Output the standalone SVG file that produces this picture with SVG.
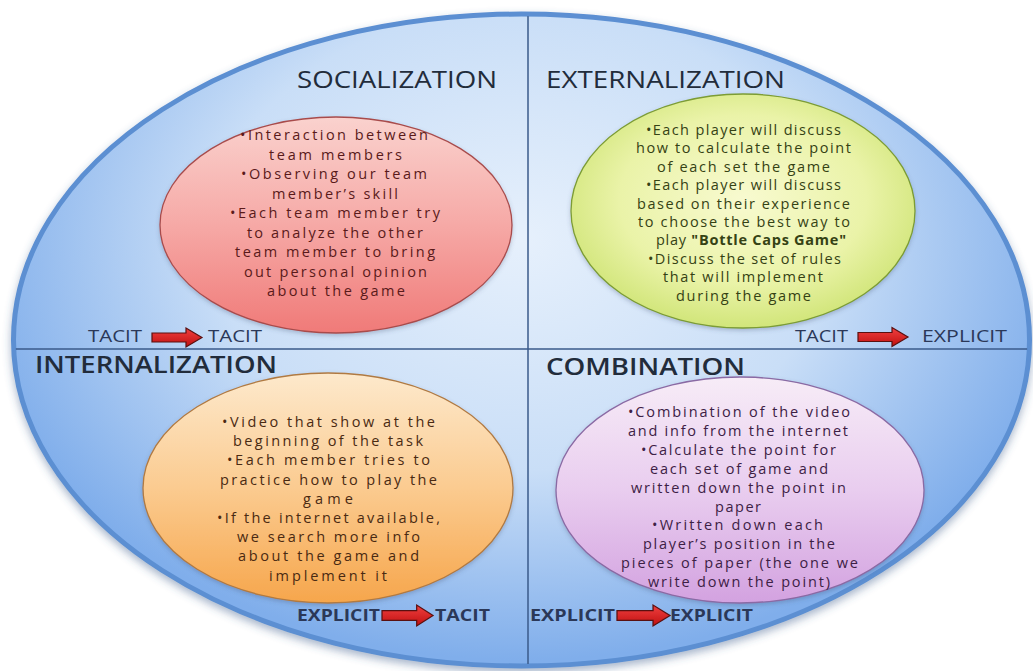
<svg xmlns="http://www.w3.org/2000/svg" width="1033" height="671" viewBox="0 0 1033 671">
<defs>
<radialGradient id="bg" cx="521" cy="240" r="560" gradientUnits="userSpaceOnUse" gradientTransform="translate(521 240) scale(1 0.75) translate(-521 -240)">
<stop offset="0" stop-color="#e6f0fc"/>
<stop offset="0.55" stop-color="#c9def7"/>
<stop offset="1" stop-color="#80aeeb"/>
</radialGradient>
<linearGradient id="gRed" x1="0" y1="0" x2="0" y2="1">
<stop offset="0" stop-color="#fad2ce"/>
<stop offset="0.5" stop-color="#f6a9a6"/>
<stop offset="1" stop-color="#f07a78"/>
</linearGradient>
<radialGradient id="gGreen" cx="0.5" cy="0.45" r="0.6">
<stop offset="0" stop-color="#f8fad0"/>
<stop offset="0.6" stop-color="#eaf3a8"/>
<stop offset="1" stop-color="#cbe26e"/>
</radialGradient>
<linearGradient id="gOrange" x1="0" y1="0" x2="0" y2="1">
<stop offset="0" stop-color="#fde9cc"/>
<stop offset="0.5" stop-color="#fbcb90"/>
<stop offset="1" stop-color="#f6a64c"/>
</linearGradient>
<linearGradient id="gPurple" x1="0" y1="0" x2="0" y2="1">
<stop offset="0" stop-color="#f7ecf7"/>
<stop offset="0.5" stop-color="#e9cdef"/>
<stop offset="1" stop-color="#d3a2e0"/>
</linearGradient>
<linearGradient id="gArrow" x1="0" y1="0" x2="0" y2="1">
<stop offset="0" stop-color="#f04040"/>
<stop offset="1" stop-color="#c01010"/>
</linearGradient>
<filter id="shadow" x="-5%" y="-5%" width="110%" height="115%">
<feGaussianBlur in="SourceAlpha" stdDeviation="4"/>
<feOffset dx="0" dy="4" result="b"/>
<feFlood flood-color="#3a5a8a" flood-opacity="0.45"/>
<feComposite in2="b" operator="in"/>
<feMerge><feMergeNode/><feMergeNode in="SourceGraphic"/></feMerge>
</filter>
<filter id="soft" x="-10%" y="-10%" width="120%" height="125%">
<feGaussianBlur in="SourceAlpha" stdDeviation="2"/>
<feOffset dx="0" dy="2" result="b"/>
<feFlood flood-color="#405070" flood-opacity="0.3"/>
<feComposite in2="b" operator="in"/>
<feMerge><feMergeNode/><feMergeNode in="SourceGraphic"/></feMerge>
</filter>
<clipPath id="clipBig"><ellipse cx="521.5" cy="340" rx="506" ry="324"/></clipPath>
<path id="arr" d="M0,-4.5 H34 V-9.5 L50,0 L34,9.5 V4.5 H0 Z"/>
</defs>
<style>
.title{font-family:"Open Sans","Liberation Sans",sans-serif;font-size:24px;fill:#222c3b}
.tb{font-weight:600}
.body{font-family:"Open Sans","Liberation Sans",sans-serif;font-size:14.5px;font-weight:500}
.lab{font-family:"Open Sans","Liberation Sans",sans-serif;font-size:16px;fill:#2b3858}
.labb{font-family:"Open Sans","Liberation Sans",sans-serif;font-size:16px;font-weight:bold;fill:#2b3858}
.red{fill:#5a1a1a}.grn{fill:#354214}.org{fill:#4a2a12}.pur{fill:#3d2145}
.arrow{fill:url(#gArrow);stroke:#5a1010;stroke-width:1.2}
.div{stroke:#3a5a8a;stroke-width:1.5;fill:none}
</style>
<rect width="1033" height="671" fill="#ffffff"/>
<g id="background">
<ellipse cx="521.5" cy="340" rx="508" ry="326" fill="url(#bg)" stroke="#5b8fd2" stroke-width="5" filter="url(#shadow)"/>
<g clip-path="url(#clipBig)">
<line class="div" x1="528" y1="10" x2="528" y2="670"/>
<line class="div" x1="10" y1="349" x2="1033" y2="349"/>
</g>
</g>
<g id="socialization">
<text class="title" x="297" y="88" textLength="200" lengthAdjust="spacingAndGlyphs">SOCIALIZATION</text>
<ellipse cx="336" cy="225" rx="176" ry="108" fill="url(#gRed)" stroke="#a84c4c" stroke-width="1.3" filter="url(#soft)"/>
<g class="body red">
<text x="240" y="140" textLength="188" lengthAdjust="spacing">•Interaction between</text>
<text x="269" y="159.5" textLength="133" lengthAdjust="spacing">team members</text>
<text x="241" y="179" textLength="186" lengthAdjust="spacing">•Observing our team</text>
<text x="272" y="198.5" textLength="126" lengthAdjust="spacing">member’s skill</text>
<text x="230" y="218" textLength="210" lengthAdjust="spacing">•Each team member try</text>
<text x="247" y="237.5" textLength="176" lengthAdjust="spacing">to analyze the other</text>
<text x="235" y="257" textLength="200" lengthAdjust="spacing">team member to bring</text>
<text x="244" y="276.5" textLength="183" lengthAdjust="spacing">out personal opinion</text>
<text x="267" y="296" textLength="138" lengthAdjust="spacing">about the game</text>
</g>
<text class="lab" x="88" y="342" textLength="54" lengthAdjust="spacingAndGlyphs">TACIT</text>
<text class="lab" x="208" y="342" textLength="54" lengthAdjust="spacingAndGlyphs">TACIT</text>
</g>
<g id="externalization">
<text class="title" x="546" y="88" textLength="239" lengthAdjust="spacingAndGlyphs">EXTERNALIZATION</text>
<ellipse cx="743" cy="211" rx="172" ry="117" fill="url(#gGreen)" stroke="#7c9c34" stroke-width="1.3" filter="url(#soft)"/>
<g class="body grn">
<text x="646" y="135" textLength="195" lengthAdjust="spacing">•Each player will discuss</text>
<text x="636" y="153.4" textLength="215" lengthAdjust="spacing">how to calculate the point</text>
<text x="657" y="171.8" textLength="173" lengthAdjust="spacing">of each set the game</text>
<text x="646" y="190.2" textLength="195" lengthAdjust="spacing">•Each player will discuss</text>
<text x="637" y="208.6" textLength="213" lengthAdjust="spacing">based on their experience</text>
<text x="638" y="227" textLength="212" lengthAdjust="spacing">to choose the best way to</text>
<text x="656" y="245.4" textLength="190" lengthAdjust="spacing">play <tspan font-weight="bold">"Bottle Caps Game"</tspan></text>
<text x="648" y="263.8" textLength="193" lengthAdjust="spacing">•Discuss the set of rules</text>
<text x="663" y="282.2" textLength="160" lengthAdjust="spacing">that will implement</text>
<text x="676" y="300.6" textLength="135" lengthAdjust="spacing">during the game</text>
</g>
<text class="lab" x="795" y="342" textLength="53" lengthAdjust="spacingAndGlyphs">TACIT</text>
<text class="lab" x="922" y="342" textLength="85" lengthAdjust="spacingAndGlyphs">EXPLICIT</text>
</g>
<g id="internalization">
<text class="title tb" x="35" y="373" textLength="242" lengthAdjust="spacingAndGlyphs">INTERNALIZATION</text>
<ellipse cx="328" cy="488" rx="185" ry="115" fill="url(#gOrange)" stroke="#b07a42" stroke-width="1.3" filter="url(#soft)"/>
<g class="body org">
<text x="222" y="427" textLength="213" lengthAdjust="spacing">•Video that show at the</text>
<text x="233" y="446.2" textLength="190" lengthAdjust="spacing">beginning of the task</text>
<text x="227" y="465.4" textLength="203" lengthAdjust="spacing">•Each member tries to</text>
<text x="220" y="484.6" textLength="217" lengthAdjust="spacing">practice how to play the</text>
<text x="303" y="503.8" textLength="50" lengthAdjust="spacing">game</text>
<text x="217" y="523" textLength="223" lengthAdjust="spacing">•If the internet available,</text>
<text x="237" y="542.2" textLength="183" lengthAdjust="spacing">we search more info</text>
<text x="238" y="561.4" textLength="181" lengthAdjust="spacing">about the game and</text>
<text x="269" y="580.6" textLength="118" lengthAdjust="spacing">implement it</text>
</g>
<text class="labb" x="297" y="621" textLength="83" lengthAdjust="spacingAndGlyphs">EXPLICIT</text>
<text class="labb" x="435" y="621" textLength="55" lengthAdjust="spacingAndGlyphs">TACIT</text>
</g>
<g id="combination">
<text class="title tb" x="546" y="375" textLength="199" lengthAdjust="spacingAndGlyphs">COMBINATION</text>
<ellipse cx="740" cy="490" rx="184" ry="113" fill="url(#gPurple)" stroke="#8a6aa4" stroke-width="1.3" filter="url(#soft)"/>
<g class="body pur">
<text x="628" y="417" textLength="222" lengthAdjust="spacing">•Combination of the video</text>
<text x="628" y="435.9" textLength="220" lengthAdjust="spacing">and info from the internet</text>
<text x="641" y="454.8" textLength="195" lengthAdjust="spacing">•Calculate the point for</text>
<text x="650" y="473.7" textLength="178" lengthAdjust="spacing">each set of game and</text>
<text x="631" y="492.6" textLength="215" lengthAdjust="spacing">written down the point in</text>
<text x="715" y="511.5" textLength="46" lengthAdjust="spacing">paper</text>
<text x="652" y="530.4" textLength="171" lengthAdjust="spacing">•Written down each</text>
<text x="643" y="549.3" textLength="192" lengthAdjust="spacing">player’s position in the</text>
<text x="621" y="568.2" textLength="237" lengthAdjust="spacing">pieces of paper (the one we</text>
<text x="648" y="587.1" textLength="182" lengthAdjust="spacing">write down the point)</text>
</g>
<text class="labb" x="530" y="621" textLength="85" lengthAdjust="spacingAndGlyphs">EXPLICIT</text>
<text class="labb" x="670" y="621" textLength="83" lengthAdjust="spacingAndGlyphs">EXPLICIT</text>
</g>
<g id="connectors">
<use href="#arr" class="arrow" transform="translate(152 337.5)"/>
<use href="#arr" class="arrow" transform="translate(858 337)"/>
<use href="#arr" class="arrow" transform="translate(382 615.5) scale(1.02 1.1)"/>
<use href="#arr" class="arrow" transform="translate(617 615.5) scale(1.06 1.1)"/>
</g>
</svg>
